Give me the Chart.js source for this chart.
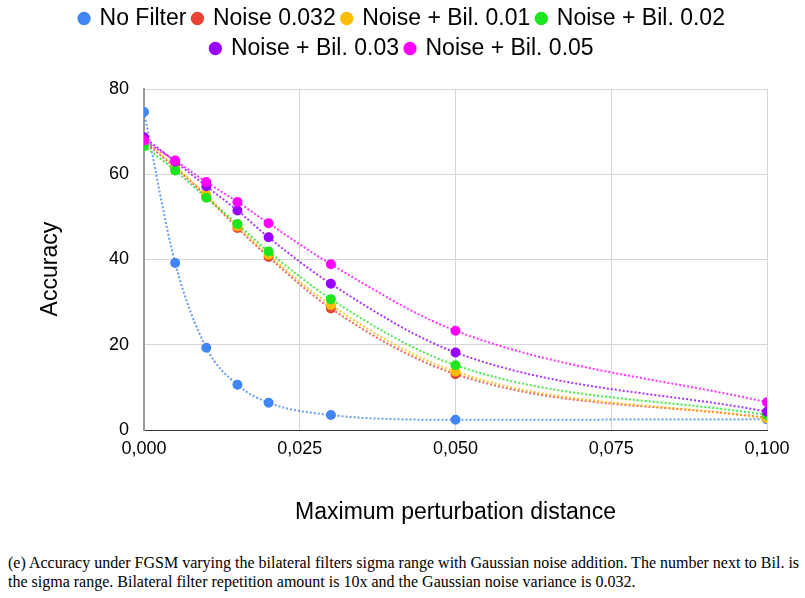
<!DOCTYPE html>
<html>
<head>
<meta charset="utf-8">
<script src="https://cdn.jsdelivr.net/npm/chart.js@4.4.1/dist/chart.umd.min.js"></script>
<style>
    html, body { margin: 0; padding: 0; background: #fff; }
    #wrap { position: relative; width: 805px; height: 540px; }
    .cap {
        position: absolute; left: 8px; width: 790px; white-space: nowrap;
        font-family: "Liberation Serif", "Times New Roman", serif;
        font-size: 16px; line-height: 19px; color: #000;
    }
    #cap1 { top: 553px; text-align: justify; text-align-last: justify; }
    #cap2 { top: 572px; }
</style>
</head>
<body>
<div id="wrap"><canvas id="chart" width="805" height="540"></canvas></div>
<div class="cap" id="cap1">(e) Accuracy under FGSM varying the bilateral filters sigma range with Gaussian noise addition. The number next to Bil. is</div>
<div class="cap" id="cap2">the sigma range. Bilateral filter repetition amount is 10x and the Gaussian noise variance is 0.032.</div>
<script>
// valori
const EPS = [0, 0.005, 0.01, 0.015, 0.02, 0.03, 0.05, 0.1];
const SERIES = ['No Filter', 'Noise 0.032', 'Noise + Bil. 0.01', 'Noise + Bil. 0.02', 'Noise + Bil. 0.03', 'Noise + Bil. 0.05'];
const NO_FILTER = [74.6, 39.2, 19.3, 10.6, 6.4, 3.5, 2.4, 2.5];
const NOISE = [67.6, 61.6, 54.8, 47.4, 40.6, 28.5, 13.1, 2.8];
const BIL_001 = [68.0, 61.9, 55.2, 47.8, 41.1, 29.3, 13.7, 2.7];
const BIL_002 = [66.6, 60.9, 54.5, 48.3, 41.9, 30.7, 15.2, 3.5];
const BIL_003 = [68.7, 63.0, 57.2, 51.5, 45.2, 34.3, 18.2, 4.3];
const BIL_005 = [67.9, 63.2, 58.2, 53.5, 48.5, 38.9, 23.3, 6.5];
const COLORS = ['#4285f4', '#ea4335', '#fbbc04', '#1ee61e', '#9900ff', '#ff00ff'];
const X_TICKS = [0, 0.025, 0.05, 0.075, 0.1];

const ALL = [NO_FILTER, NOISE, BIL_001, BIL_002, BIL_003, BIL_005];

const datasets = ALL.map((vals, i) => ({
    label: SERIES[i],
    data: EPS.map((x, j) => ({ x, y: vals[j] })),
    borderColor: COLORS[i] + 'cc',
    backgroundColor: COLORS[i],
    pointBackgroundColor: COLORS[i],
    pointBorderColor: COLORS[i],
    borderWidth: 2,
    borderDash: [2, 2],
    pointRadius: 4,
    pointHoverRadius: 4,
    cubicInterpolationMode: 'monotone',
    order: ALL.length - i   // le serie successive stanno sopra
}));

const font = 'Liberation Sans, Arial, sans-serif';

// spazio in più sotto la legenda (Legend.update chiama solo fit())
const legendGap = {
    id: 'legendGap',
    beforeLayout(chart) {
        const lg = chart.legend;
        if (lg && !lg._gapDone) {
            const fit = lg.fit;
            lg.fit = function () { fit.call(this); this.height += 19; };
            lg._gapDone = true;
        }
    }
};

new Chart(document.getElementById('chart'), {
    type: 'line',
    data: { datasets },
    plugins: [legendGap],
    options: {
        responsive: false,
        animation: false,
        layout: { padding: 0 },
        scales: {
            x: {
                type: 'linear',
                min: 0,
                max: 0.1,
                afterBuildTicks: s => { s.ticks = X_TICKS.map(v => ({ value: v })); },
                afterFit: s => { s.height = 110; },
                grid: { color: '#d6d6d6', lineWidth: 1, drawTicks: false },
                border: { color: '#333', width: 1 },
                ticks: {
                    color: '#000', font: { family: font, size: 18 }, padding: 8,
                    callback: v => v.toFixed(3).replace('.', ',')
                },
                title: {
                    display: true, text: 'Maximum perturbation distance', color: '#000',
                    font: { family: font, size: 23 }, padding: { top: 0, bottom: 14 }
                }
            },
            y: {
                min: 0,
                max: 80,
                ticks: { stepSize: 20, color: '#000', font: { family: font, size: 18 }, padding: 15 },
                afterFit: s => { s.width = 144; },
                grid: { color: '#d6d6d6', lineWidth: 1, drawTicks: false },
                border: { color: '#999', width: 2 },
                title: {
                    display: true, text: 'Accuracy   ', color: '#000',
                    font: { family: font, size: 23 }, padding: { top: 37, bottom: 0 }
                }
            },
            // margine destro vuoto
            yRight: {
                position: 'right',
                min: 0,
                max: 80,
                afterFit: s => { s.width = 38; },
                ticks: { display: false },
                grid: { display: false },
                border: { display: false }
            }
        },
        plugins: {
            legend: {
                position: 'top',
                labels: {
                    usePointStyle: true, pointStyle: 'circle', boxWidth: 8, boxHeight: 8,
                    padding: 7, color: '#000', font: { family: font, size: 23, lineHeight: 0.78 },
                    sort: (a, b) => a.datasetIndex - b.datasetIndex
                }
            },
            tooltip: { enabled: false }
        }
    }
});
</script>
</body>
</html>
